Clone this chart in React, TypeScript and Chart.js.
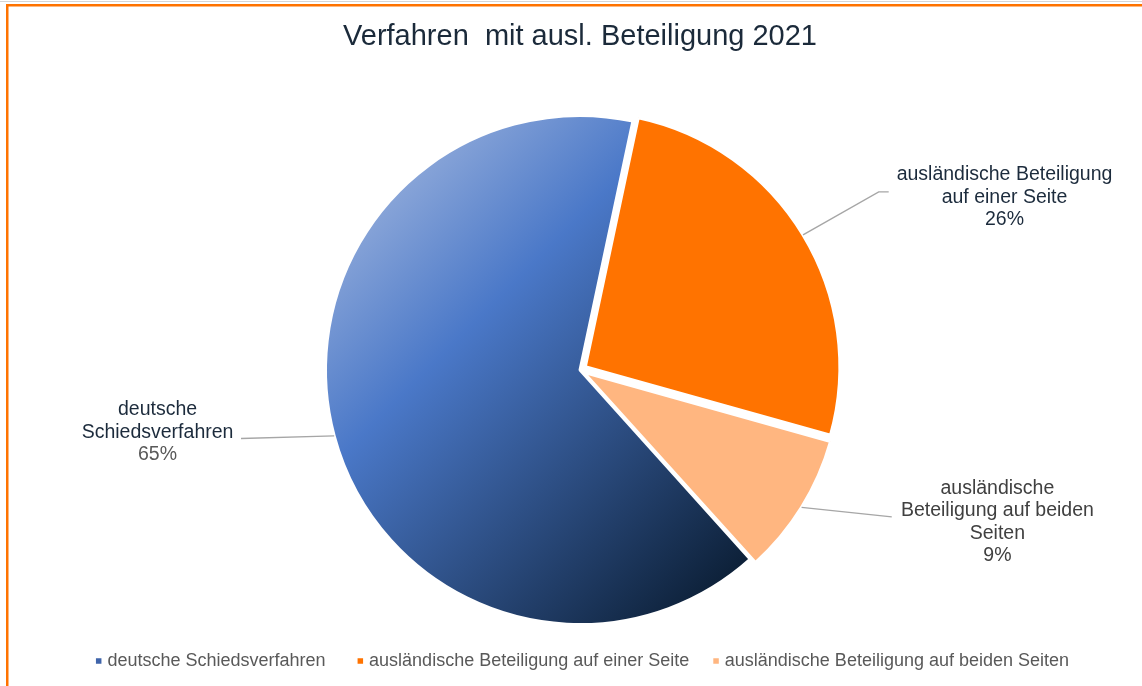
import React, { useEffect, useRef } from "react";
import { Chart, registerables } from "chart.js";

Chart.register(...registerables);

// ---- data ----
const titleText = "Verfahren  mit ausl. Beteiligung 2021";
const categories = [
  "deutsche Schiedsverfahren",
  "ausländische Beteiligung auf einer Seite",
  "ausländische Beteiligung auf beiden Seiten",
];
const shares = [65, 26, 9];
const labelLines = [
  ["deutsche", "Schiedsverfahren"],
  ["ausländische Beteiligung", "auf einer Seite"],
  ["ausländische", "Beteiligung auf beiden", "Seiten"],
];

// ---- styles ----
const FONT = "'Liberation Sans', Arial, Helvetica, sans-serif";
const ORANGE = "#FF7300";
const PEACH = "#FFB680";
const LEGEND_COLORS = ["#3F64AA", ORANGE, PEACH];
const SLICE_OFFSETS = [0, 25, 17];
const LEADER_COLOR = "#A6A6A6";
// label placement, in units of the pie radius relative to the pie centre
const LABEL_POS = [
  { cx: -1.66, cy: 0.245, ex: -1.332, ey: 0.269, elbow: 0 },
  { cx: 1.668, cy: -0.678, ex: 1.213, ey: -0.7, elbow: -10 },
  { cx: 1.64, cy: 0.598, ex: 1.225, ey: 0.577, elbow: 0 },
];
const LABEL_COLORS = [
  { name: "#1C2B3C", pct: "#595959" },
  { name: "#1C2B3C", pct: "#1C2B3C" },
  { name: "#404040", pct: "#404040" },
];
const LEGEND_GAPS = [32, 24];
const PIE_RADIUS = 254.5;

function blueGradient(c: any) {
  const chart = c.chart;
  const area = chart.chartArea;
  if (!area) return "#4472C4";
  const cx = (area.left + area.right) / 2;
  const cy = (area.top + area.bottom) / 2;
  const r = PIE_RADIUS;
  const g = chart.ctx.createLinearGradient(cx - r, cy - r, cx + r, cy + r);
  g.addColorStop(0, "#B3C3E3");
  g.addColorStop(0.35, "#4A78C8");
  g.addColorStop(0.86, "#0C1F36");
  g.addColorStop(1, "#081626");
  return g;
}

const framePlugin = {
  id: "frame",
  beforeDraw(chart: any) {
    const { ctx, width, height } = chart;
    ctx.save();
    ctx.fillStyle = "#FFFFFF";
    ctx.fillRect(0, 0, width, height);
    ctx.fillStyle = "#D6D6D6";
    ctx.fillRect(0, 1, width, 1);
    ctx.fillStyle = ORANGE;
    ctx.fillRect(6, 4, width - 6, 2.5);
    ctx.fillRect(6, 4, 2.5, height - 4);
    ctx.restore();
  },
};

const labelPlugin = {
  id: "pieLabels",
  afterDatasetsDraw(chart: any) {
    const ctx = chart.ctx;
    const meta = chart.getDatasetMeta(0);
    const total = shares.reduce((a, b) => a + b, 0);
    meta.data.forEach((arc: any, i: number) => {
      const { x, y, startAngle, endAngle, outerRadius, circumference } = arc.getProps(
        ["x", "y", "startAngle", "endAngle", "outerRadius", "circumference"],
        true
      );
      const mid = (startAngle + endAngle) / 2;
      const off = SLICE_OFFSETS[i] / 4;
      const fix = 1 - Math.sin(Math.min(Math.PI, circumference || 0));
      const shift = off + off * fix;
      const r = outerRadius;
      const sx = x + Math.cos(mid) * (r + shift);
      const sy = y + Math.sin(mid) * (r + shift);
      const p = LABEL_POS[i];
      const ex = x + p.ex * r;
      const ey = y + p.ey * r;
      ctx.save();
      ctx.strokeStyle = LEADER_COLOR;
      ctx.lineWidth = 1.4;
      ctx.beginPath();
      ctx.moveTo(sx, sy);
      ctx.lineTo(ex + p.elbow, ey);
      if (p.elbow) ctx.lineTo(ex, ey);
      ctx.stroke();

      const pct = Math.round((shares[i] / total) * 100) + "%";
      const lines = [...labelLines[i], pct];
      const lh = 22.4;
      const cx = x + p.cx * r;
      const cy = y + p.cy * r;
      const top = cy - ((lines.length - 1) * lh) / 2;
      ctx.font = `19.5px ${FONT}`;
      ctx.textAlign = "center";
      ctx.textBaseline = "middle";
      lines.forEach((ln, j) => {
        ctx.fillStyle = j === lines.length - 1 ? LABEL_COLORS[i].pct : LABEL_COLORS[i].name;
        ctx.fillText(ln, cx, top + j * lh);
      });
      ctx.restore();
    });
  },
};

const legendPlugin = {
  id: "bottomLegend",
  afterDraw(chart: any) {
    const ctx = chart.ctx;
    const area = chart.chartArea;
    ctx.save();
    ctx.font = `18px ${FONT}`;
    ctx.textBaseline = "middle";
    ctx.textAlign = "left";
    const widths = categories.map((c) => ctx.measureText(c).width);
    const marker = 5.5;
    const gapMT = 6;
    const total =
      widths.reduce((s, w) => s + marker + gapMT + w, 0) + LEGEND_GAPS.reduce((a, b) => a + b, 0);
    let xx = (area.left + area.right) / 2 + 2.5 - total / 2;
    const yy = 661;
    categories.forEach((c, i) => {
      ctx.fillStyle = LEGEND_COLORS[i];
      ctx.fillRect(xx, yy - marker / 2, marker, marker);
      xx += marker + gapMT;
      ctx.fillStyle = "#595959";
      ctx.fillText(c, xx, yy);
      xx += widths[i] + (LEGEND_GAPS[i] || 0);
    });
    ctx.restore();
  },
};

export default function App() {
  const ref = useRef<HTMLCanvasElement | null>(null);
  useEffect(() => {
    if (!ref.current) return;
    const chart = new Chart(ref.current, {
      type: "pie",
      data: {
        labels: categories,
        datasets: [
          {
            data: shares,
            backgroundColor: (c: any) =>
              c.dataIndex === 0 ? blueGradient(c) : c.dataIndex === 1 ? ORANGE : PEACH,
            borderColor: "#FFFFFF",
            borderWidth: 3,
            offset: SLICE_OFFSETS,
            hoverOffset: 0,
          },
        ],
      },
      options: {
        responsive: false,
        animation: false,
        radius: PIE_RADIUS,
        rotation: 138,
        layout: { padding: { left: 18, right: 0, top: 0, bottom: 10.4 } },
        plugins: {
          legend: { display: false },
          tooltip: { enabled: false },
          title: {
            display: true,
            text: titleText,
            color: "#1B2A3A",
            font: { family: FONT, size: 29, weight: "normal" },
            padding: { top: 19.6, bottom: 10 },
          },
        },
      } as any,
      plugins: [framePlugin, labelPlugin, legendPlugin],
    });
    return () => chart.destroy();
  }, []);
  return (
    <div style={{ position: "absolute", left: 0, top: 0, width: 1142, height: 686, background: "#fff" }}>
      <canvas ref={ref} width={1142} height={686} style={{ display: "block" }} />
    </div>
  );
}
